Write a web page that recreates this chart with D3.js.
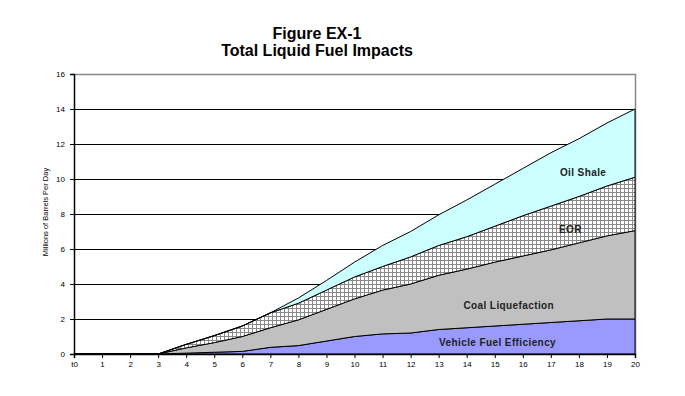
<!DOCTYPE html>
<html>
<head>
<meta charset="utf-8">
<script src="https://cdn.jsdelivr.net/npm/d3@7"></script>
<style>
  body { margin: 0; background: #fff; }
  svg { display: block; font-family: "Liberation Sans", Arial, sans-serif; }
</style>
</head>
<body>
<svg id="chart" width="685" height="396"></svg>
<script>
// x categories (t0 .. 20)
var years = d3.range(0, 21);
var xTickLabels = ["t0"].concat(d3.range(1, 21).map(String));
var yTicks = [0, 2, 4, 6, 8, 10, 12, 14, 16];

// stacked series, millions of barrels per day
var vehicle = [0, 0, 0, 0, 0.05, 0.1, 0.15, 0.38, 0.48, 0.74, 1.0, 1.15, 1.2, 1.4, 1.5, 1.6, 1.7, 1.8, 1.9, 2.0, 2.0];
var coal    = [0, 0, 0, 0, 0.3, 0.55, 0.85, 1.12, 1.47, 1.81, 2.15, 2.5, 2.8, 3.1, 3.35, 3.65, 3.9, 4.15, 4.45, 4.75, 5.05];
var eor     = [0, 0, 0, 0, 0.2, 0.4, 0.6, 0.85, 0.95, 1.1, 1.25, 1.35, 1.55, 1.7, 1.85, 2.05, 2.3, 2.5, 2.65, 2.85, 3.05];
var oil     = [0, 0, 0, 0, 0, 0, 0, 0, 0.3, 0.55, 0.85, 1.2, 1.45, 1.75, 2.1, 2.4, 2.7, 3.05, 3.3, 3.6, 3.9];

var seriesNames = ["Vehicle Fuel Efficiency", "Coal Liquefaction", "EOR", "Oil Shale"];
var seriesKeys = ["vehicle", "coal", "eor", "oil"];

var rows = years.map(function(yr, i) {
    return {year: yr, vehicle: vehicle[i], coal: coal[i], eor: eor[i], oil: oil[i]};
});

var svg = d3.select("#chart");
var pLeft = 74, pRight = 635, pTop = 74, pBottom = 354;

var x = d3.scaleLinear().domain([0, 20]).range([pLeft, pRight]);
var y = d3.scaleLinear().domain([0, 16]).range([pBottom, pTop]);

var defs = svg.append("defs");
var pat = defs.append("pattern")
    .attr("id", "hatch")
    .attr("patternUnits", "userSpaceOnUse")
    .attr("width", 4).attr("height", 4);
pat.append("rect").attr("width", 4).attr("height", 4).attr("fill", "#fff");
pat.append("path").attr("d", "M0,0.5H4M0.5,0V4")
    .attr("stroke", "#8a8a8a").attr("stroke-width", 1);

var fills = {vehicle: "#9999ff", coal: "#c0c0c0", eor: "url(#hatch)", oil: "#ccffff"};

// title
svg.append("text").attr("x", 317).attr("y", 39)
    .attr("text-anchor", "middle").attr("font-size", 16).attr("font-weight", "bold")
    .text("Figure EX-1");
svg.append("text").attr("x", 317).attr("y", 56)
    .attr("text-anchor", "middle").attr("font-size", 16).attr("font-weight", "bold")
    .text("Total Liquid Fuel Impacts");

// plot border (grey)
svg.append("path")
    .attr("d", "M" + pLeft + "," + (pTop + 0.5) + "H" + (pRight + 0.5) + "V" + pBottom)
    .attr("fill", "none").attr("stroke", "#888").attr("stroke-width", 1.5);

// gridlines
svg.append("g").selectAll("line")
    .data(yTicks.filter(function(d) { return d > 0 && d < 16; }))
    .join("line")
    .attr("x1", pLeft).attr("x2", pRight)
    .attr("y1", function(d) { return Math.round(y(d)) + 0.5; })
    .attr("y2", function(d) { return Math.round(y(d)) + 0.5; })
    .attr("stroke", "#000").attr("stroke-width", 1);

// stacked areas
var stack = d3.stack().keys(seriesKeys);
var layers = stack(rows);

var area = d3.area()
    .x(function(d) { return x(d.data.year); })
    .y0(function(d) { return y(d[0]); })
    .y1(function(d) { return y(d[1]); });

svg.append("g").selectAll("path")
    .data(layers)
    .join("path")
    .attr("d", area)
    .attr("fill", function(d) { return fills[d.key]; })
    .attr("stroke", "#000")
    .attr("stroke-width", 1)
    .attr("stroke-linejoin", "round");

// axes
var yAxis = d3.axisLeft(y).tickValues(yTicks).tickSize(4).tickPadding(5);
var gy = svg.append("g").attr("transform", "translate(" + pLeft + ",0)").call(yAxis);
gy.select(".domain").attr("stroke-width", 1.5);
gy.selectAll("text").attr("font-size", 8).attr("font-family", "Liberation Sans, Arial, sans-serif");

var xAxis = d3.axisBottom(x).tickValues(years).tickSize(4).tickPadding(3)
    .tickFormat(function(d, i) { return xTickLabels[i]; });
var gx = svg.append("g").attr("transform", "translate(0," + pBottom + ")").call(xAxis);
gx.select(".domain").attr("stroke-width", 1.5);
gx.selectAll("text").attr("font-size", 8).attr("font-family", "Liberation Sans, Arial, sans-serif");

// y axis title
svg.append("text")
    .attr("transform", "translate(48,212) rotate(-90)")
    .attr("text-anchor", "middle").attr("font-size", 7.5)
    .text("Millions of Barrels Per Day");

// series labels
var labelPos = [
    {name: seriesNames[0], x: 15.1, v: 0.45},
    {name: seriesNames[1], x: 15.5, v: 2.55},
    {name: seriesNames[2], x: 17.7, v: 6.9},
    {name: seriesNames[3], x: 18.15, v: 10.2}
];
svg.append("g").selectAll("text")
    .data(labelPos)
    .join("text")
    .attr("x", function(d) { return x(d.x); })
    .attr("y", function(d) { return y(d.v); })
    .attr("text-anchor", "middle")
    .attr("font-size", 10).attr("font-weight", "bold")
    .attr("letter-spacing", 0.4)
    .attr("fill", "#222")
    .text(function(d) { return d.name; });
</script>
</body>
</html>
